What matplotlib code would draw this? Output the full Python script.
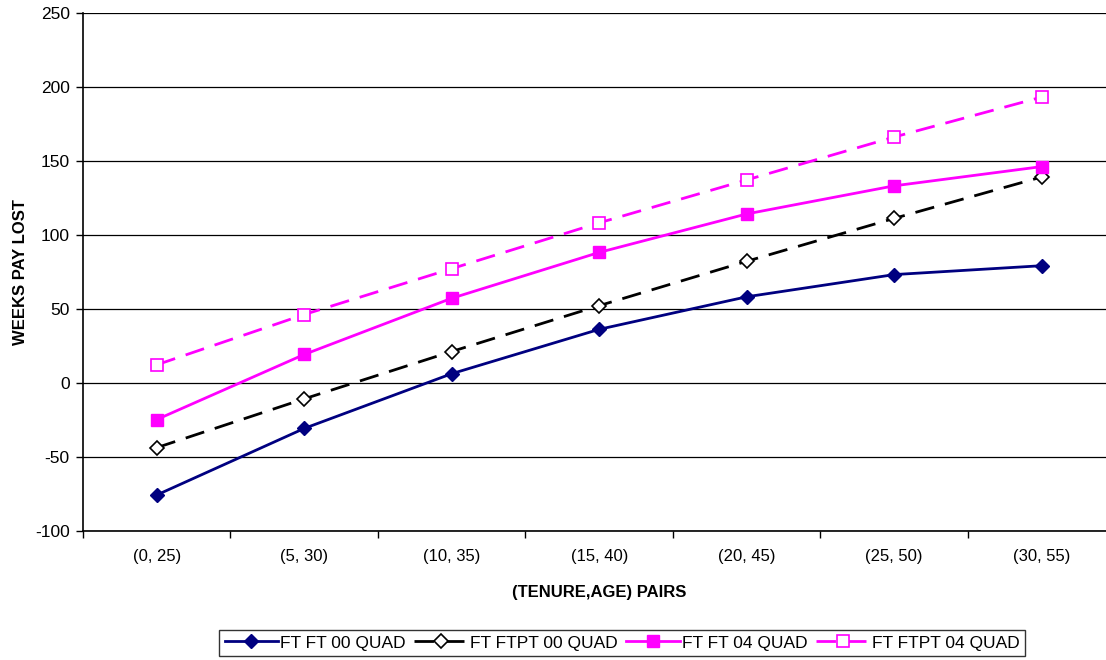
import matplotlib
matplotlib.use('Agg')
import matplotlib.pyplot as plt
import numpy as np

plt.rcParams['font.family'] = ['Liberation Sans', 'DejaVu Sans']
plt.rcParams['axes.unicode_minus'] = False

# (tenure, age) pairs
pairs = ['(0, 25)', '(5, 30)', '(10, 35)', '(15, 40)', '(20, 45)', '(25, 50)', '(30, 55)']

# weeks pay lost
ft_ft_00 = [-76, -31, 6, 36, 58, 73, 79]
ft_ftpt_00 = [-44, -11, 21, 52, 82, 111, 139]
ft_ft_04 = [-25, 19, 57, 88, 114, 133, 146]
ft_ftpt_04 = [12, 46, 77, 108, 137, 166, 193]

navy = '#000080'
mag = '#FF00FF'

fig = plt.figure(figsize=(11.06, 6.6), dpi=100)
ax = fig.add_axes([0.075, 0.1962, 0.9336, 0.7845])

x = np.arange(len(pairs))
ax.plot(x, ft_ft_00, color=navy, lw=2, marker='D', ms=7, mfc=navy, mec=navy,
        label='FT FT 00 QUAD', zorder=3)
ax.plot(x, ft_ftpt_00, color='black', lw=2, dashes=(7, 4), marker='D', ms=7,
        mfc='white', mec='black', mew=1.2, label='FT FTPT 00 QUAD', zorder=3)
ax.plot(x, ft_ft_04, color=mag, lw=2, marker='s', ms=8, mfc=mag, mec=mag,
        label='FT FT 04 QUAD', zorder=3)
ax.plot(x, ft_ftpt_04, color=mag, lw=2, dashes=(7, 4), marker='s', ms=8,
        mfc='white', mec=mag, mew=1.2, label='FT FTPT 04 QUAD', zorder=3)

ax.set_xlim(-0.5, len(pairs) - 0.5)
ax.set_ylim(-100, 250)
ax.set_yticks(np.arange(-100, 251, 50))
ax.yaxis.grid(True, color='black', lw=0.9)
ax.set_axisbelow(True)

ax.set_xticks(x)
ax.set_xticklabels(pairs, fontsize=12)
ax.set_xticks(np.arange(-0.5, len(pairs), 1), minor=True)
ax.tick_params(axis='x', which='major', length=0, pad=13.5)
ax.tick_params(axis='x', which='minor', length=5, width=1, direction='out')
ax.tick_params(axis='y', length=5, width=1, labelsize=12.5, pad=4.5)

for s in ['top', 'right']:
    ax.spines[s].set_visible(False)
ax.spines['left'].set_linewidth(1.2)
ax.spines['bottom'].set_linewidth(1.2)

ax.set_xlabel('(TENURE,AGE) PAIRS', fontsize=12, fontweight='bold', labelpad=15)
ax.set_ylabel('WEEKS PAY LOST', fontsize=12, fontweight='bold', labelpad=5)

leg = fig.legend(loc='center', bbox_to_anchor=(0.5624, 0.0258), ncol=4,
                 fontsize=12.5, frameon=True, fancybox=False, edgecolor='black',
                 handlelength=3.1, handletextpad=0.1, columnspacing=0.5,
                 borderpad=0.3, borderaxespad=0)
leg.get_frame().set_linewidth(1)

fig.savefig('out.png', dpi=100)
